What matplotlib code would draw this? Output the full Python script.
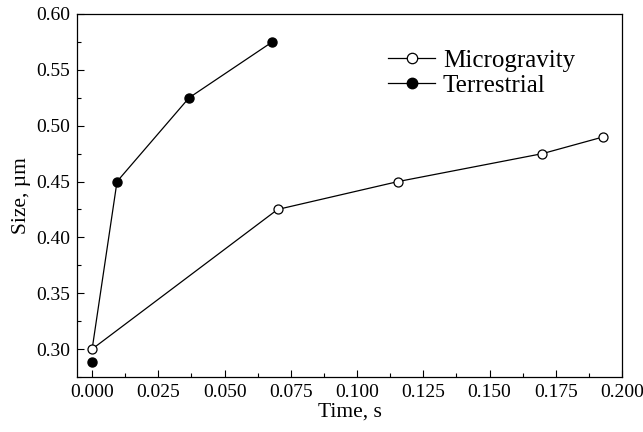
import numpy as np
import matplotlib
matplotlib.use('Agg')
from matplotlib import pyplot as plt
from matplotlib.ticker import MultipleLocator, FormatStrFormatter

micro_t = [0.0, 0.070, 0.1155, 0.170, 0.193]
micro_size = [0.300, 0.425, 0.450, 0.475, 0.490]
terr_t = [0.0, 0.0094, 0.0366, 0.068]
terr_size = [0.288, 0.450, 0.525, 0.575]

plt.rcParams['font.family'] = ['Liberation Serif', 'DejaVu Serif']

fig = plt.figure(figsize=(6.43, 4.32), dpi=100)
ax = fig.add_axes([0.1198, 0.1273, 0.8475, 0.8403])

# terrestrial line starts from the common initial size, first marker sits a bit lower
ax.plot([micro_t[0]] + terr_t[1:], [micro_size[0]] + terr_size[1:], color='black', lw=0.9, zorder=1)
ax.plot(terr_t, terr_size, ls='none', marker='o', ms=6.5, mfc='black', mec='black', zorder=3)
ax.plot(micro_t, micro_size, color='black', lw=0.9, marker='o', ms=6.5, mfc='white', mec='black',
        mew=0.9, zorder=2)

h1, = ax.plot([], [], color='black', lw=0.9, marker='o', ms=7.5, mfc='white', mec='black', mew=0.9)
h2, = ax.plot([], [], color='black', lw=0.9, marker='o', ms=7.5, mfc='black', mec='black')
ax.legend([h1, h2], ['Microgravity', 'Terrestrial'], loc='upper left', bbox_to_anchor=(0.552, 0.93),
          frameon=False, fontsize=18, handlelength=1.9, handletextpad=0.3, labelspacing=0.1,
          borderaxespad=0)

ax.set_xlim(-0.0057, 0.2)
ax.set_ylim(0.275, 0.60)
ax.xaxis.set_major_locator(MultipleLocator(0.025))
ax.xaxis.set_minor_locator(MultipleLocator(0.0125))
ax.yaxis.set_major_locator(MultipleLocator(0.05))
ax.yaxis.set_minor_locator(MultipleLocator(0.025))
ax.xaxis.set_major_formatter(FormatStrFormatter('%.3f'))
ax.yaxis.set_major_formatter(FormatStrFormatter('%.2f'))
ax.tick_params(which='both', direction='in', top=False, right=False, labelsize=14)
ax.tick_params(which='major', length=5, width=0.8, pad=5)
ax.tick_params(which='minor', length=3, width=0.8)
for s in ax.spines.values():
    s.set_linewidth(0.9)

ax.set_xlabel('Time, s', fontsize=15.5, labelpad=1)
ax.set_ylabel('Size, µm', fontsize=15.5, labelpad=4)

fig.savefig('out.png', dpi=100)
